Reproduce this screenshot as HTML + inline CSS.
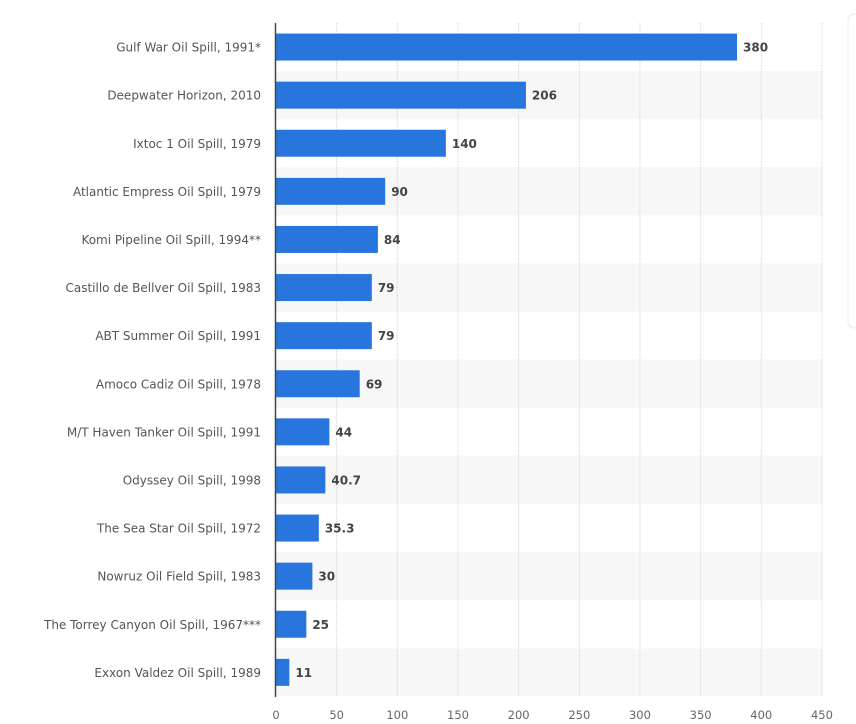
<!DOCTYPE html>
<html><head><meta charset="utf-8"><style>
html,body{margin:0;padding:0;background:#fff;width:856px;height:724px;overflow:hidden}
svg{display:block;font-family:"DejaVu Sans","Liberation Sans",sans-serif}
</style></head><body>
<svg width="856" height="724" viewBox="0 0 856 724" xmlns="http://www.w3.org/2000/svg">
<g id="shade" fill="#f7f7f8"></g>
<g id="grid" stroke="#d4d4d4" stroke-width="1" stroke-dasharray="1,1"></g>
<g id="bars"></g>
<line x1="275.5" y1="23" x2="275.5" y2="697" stroke="#444" stroke-width="1.5"/>
<rect x="848" y="14" width="20" height="314" rx="6" fill="#fff" stroke="#ececf0"/>
</svg>
<script>
(function(){
var d=[["Gulf War Oil Spill, 1991*",380,"380"],["Deepwater Horizon, 2010",206,"206"],["Ixtoc 1 Oil Spill, 1979",140,"140"],["Atlantic Empress Oil Spill, 1979",90,"90"],["Komi Pipeline Oil Spill, 1994**",84,"84"],["Castillo de Bellver Oil Spill, 1983",79,"79"],["ABT Summer Oil Spill, 1991",79,"79"],["Amoco Cadiz Oil Spill, 1978",69,"69"],["M/T Haven Tanker Oil Spill, 1991",44,"44"],["Odyssey Oil Spill, 1998",40.7,"40.7"],["The Sea Star Oil Spill, 1972",35.3,"35.3"],["Nowruz Oil Field Spill, 1983",30,"30"],["The Torrey Canyon Oil Spill, 1967***",25,"25"],["Exxon Valdez Oil Spill, 1989",11,"11"]];
var ns="http://www.w3.org/2000/svg";
function el(t,a,p,txt){var e=document.createElementNS(ns,t);for(var k in a)e.setAttribute(k,a[k]);if(txt!==undefined)e.textContent=txt;document.querySelector(p).appendChild(e);return e;}
var s=1.2132,x0=276,rh=48.1,T0=23;
d.forEach(function(r,i){var y=T0+i*rh;
 if(i%2==1)el("rect",{x:276,y:y,width:547,height:rh},"#shade");
 var cy=y+rh/2;
 el("text",{x:261,y:cy+4.5,"text-anchor":"end","font-size":"12",fill:"#555"},"#bars",r[0]);
 el("rect",{x:x0,y:cy-13.5,width:r[1]*s,height:27,fill:"#2876dd"},"#bars");
 el("text",{x:x0+r[1]*s+6,y:cy+4.5,"font-size":"12","font-weight":"bold",fill:"#444"},"#bars",r[2]);
});
for(var v=50;v<=450;v+=50){var gx=x0+v*s;el("line",{x1:gx,y1:23,x2:gx,y2:697},"#grid");}
for(var v=0;v<=450;v+=50){el("text",{x:x0+v*s,y:719,"text-anchor":"middle","font-size":"11.5",fill:"#666"},"#bars",v);}
})();
</script>
</body></html>
